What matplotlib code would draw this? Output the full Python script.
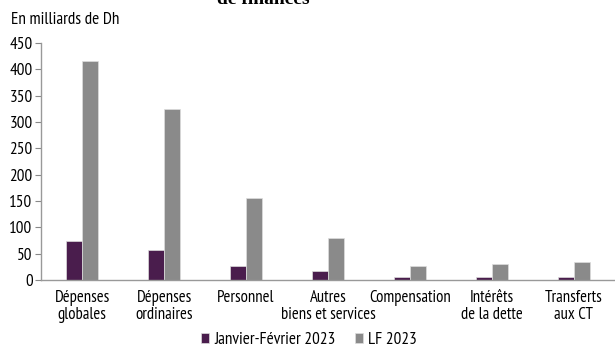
import matplotlib
matplotlib.use("Agg")
import matplotlib.pyplot as plt
import numpy as np

categories = ["Dépenses\nglobales", "Dépenses\nordinaires", "Personnel",
              "Autres\nbiens et services", "Compensation", "Intérêts\nde la dette",
              "Transferts\naux CT"]
jan_fev_2023 = [73.5, 57, 26.5, 16.5, 5.5, 5.5, 5]
lf_2023 = [416, 324, 155, 80, 26, 30, 33.5]
series_names = ["Janvier-Février 2023", "LF 2023"]
yticks = [0, 50, 100, 150, 200, 250, 300, 350, 400, 450]

plt.rcParams['font.family'] = ['PT Sans Narrow', 'Liberation Sans', 'DejaVu Sans']

fig = plt.figure(figsize=(6.15, 3.48), dpi=100)
ax = fig.add_axes([41/615, (348-280)/348, 574/615, (280-43)/348])

x = np.arange(len(categories))
w = 0.197
purple = "#4A1D4D"
gray = "#8A8A8A"
ax.bar(x - w/2, jan_fev_2023, w, color=purple, edgecolor="#DDDDDD", linewidth=0.5, label=series_names[0])
ax.bar(x + w/2, lf_2023, w, color=gray, edgecolor="#DDDDDD", linewidth=0.5, label=series_names[1])

fs = 12.3
ax.set_xlim(-0.5, len(categories) - 0.5)
ax.set_ylim(0, 450)
ax.set_yticks(yticks)
ax.set_yticklabels([str(v) for v in yticks], fontsize=fs)
ax.set_xticks(x)
ax.set_xticklabels(categories, fontsize=12.0, linespacing=1.1)
ax.tick_params(axis='x', length=0, pad=7)
ax.tick_params(axis='y', length=4, width=0.8, color="#888888", pad=2)
for s in ["top", "right"]:
    ax.spines[s].set_visible(False)
for s in ["left", "bottom"]:
    ax.spines[s].set_color("#999999")
    ax.spines[s].set_linewidth(1.0)

fig.text(11/615, 1 - 20/348, "En milliards de Dh", fontsize=fs, va="center", ha="left")
fig.text(263/615, 1 - 0/348, "de finances", fontsize=14, fontweight="bold",
         family="Liberation Serif", ha="center", va="center")

leg = fig.legend(loc="center", bbox_to_anchor=(309/615, 1 - 340/348), ncol=2, frameon=False,
                 fontsize=fs, handlelength=0.5, handleheight=0.5, handletextpad=0.3,
                 columnspacing=1.1, borderpad=0)

fig.savefig("out.png", dpi=100)
